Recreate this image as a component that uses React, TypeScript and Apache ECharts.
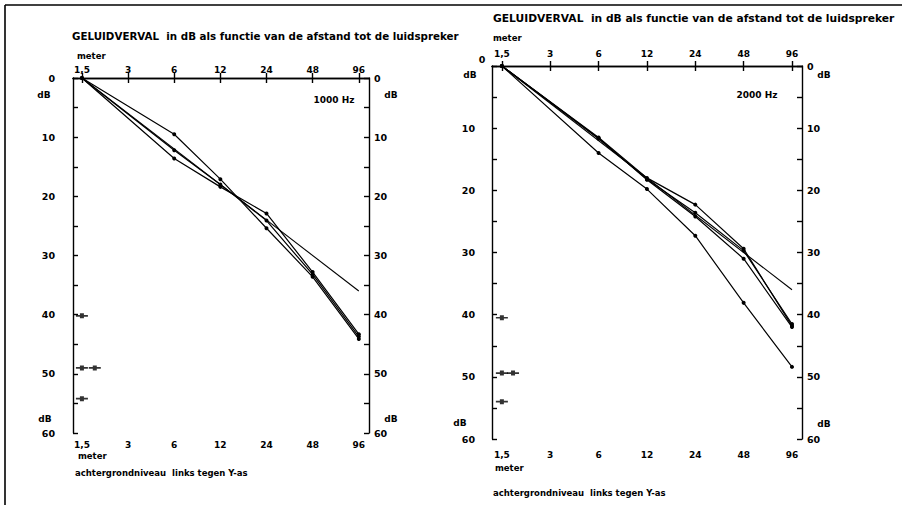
import React, { useEffect, useRef } from "react";
import * as echarts from "echarts";

// axis ticks (meters, doubling steps) and their printed labels
const tickDistances = [1.5, 3, 6, 12, 24, 48, 96];
const tickLabels = ["1,5", "3", "6", "12", "24", "48", "96"];
const dbTicks = [0, 10, 20, 30, 40, 50, 60];

// measured distances
const measuredDist = [1.5, 6, 12, 24, 48, 96];

// 1000 Hz panel (dB drop)
const hz1000SeriesA = [0, 9.5, 17.1, 25.4, 33.6, 44.1];
const hz1000SeriesB = [0, 12.2, 18.0, 24.1, 33.2, 43.7];
const hz1000SeriesC = [0, 13.6, 18.4, 22.9, 32.8, 43.3];

// 2000 Hz panel (dB drop)
const hz2000SeriesA = [0, 11.5, 18.0, 22.3, 29.4, 41.8];
const hz2000SeriesB = [0, 11.7, 18.2, 23.6, 29.7, 41.5];
const hz2000SeriesC = [0, 11.6, 18.3, 24.2, 31.0, 42.0];
const hz2000SeriesD = [0, 14.0, 19.8, 27.3, 38.1, 48.4];

// theoretical 6 dB per doubling line
const refDist = [1.5, 96];
const refDb = [0, 36];

// background level marks ("achtergrondniveau")
const bg1000Dist = [1.5, 1.5, 1.82, 1.5];
const bg1000Db = [40.2, 49, 49, 54.2];
const bg2000Dist = [1.5, 1.5, 1.76, 1.5];
const bg2000Db = [40.5, 49.4, 49.4, 54];

const FONT = "DejaVu Sans";
const zip = (xs: number[], ys: number[]) => xs.map((x, i) => [x, ys[i]]);

const labelFor = (v: number) => {
  const idx = tickDistances.findIndex((d) => Math.abs(d - v) < 0.01 * d);
  return idx >= 0 ? tickLabels[idx] : "";
};

const labelStyle = { color: "#000", fontSize: 9, fontWeight: "bold" as const, fontFamily: FONT };
const lineStyle = { color: "#000", width: 1.4 };

function makeX(gridIndex: number, position: string, min: number, max: number, margin: number) {
  return {
    type: "log",
    logBase: 2,
    gridIndex,
    position,
    min,
    max,
    axisLine: { show: true, lineStyle },
    axisTick: { show: true, inside: true, length: 5, customValues: tickDistances, lineStyle },
    axisLabel: { ...labelStyle, margin, customValues: tickDistances, formatter: (v: number) => labelFor(v) },
    splitLine: { show: false },
    minorTick: { show: false },
    minorSplitLine: { show: false },
  };
}

function makeY(gridIndex: number, position: string, margin: number, skipZero = false) {
  return {
    type: "value",
    gridIndex,
    position,
    inverse: true,
    min: 0,
    max: 60,
    interval: 5,
    axisLine: { show: true, lineStyle },
    axisTick: { show: true, inside: true, length: 5, lineStyle },
    axisLabel: {
      ...labelStyle,
      fontSize: 9.5,
      margin,
      formatter: (v: number) => (dbTicks.includes(v) && !(skipZero && v === 0) ? String(v) : ""),
    },
    splitLine: { show: false },
  };
}

const bgSymbol = "path://M0,1.6H12V3.2H0Z M4,0H8V4.8H4Z";

function lineSeries(xi: number, yi: number, ys: number[]) {
  return {
    type: "line",
    xAxisIndex: xi,
    yAxisIndex: yi,
    data: zip(measuredDist, ys),
    symbol: "circle",
    symbolSize: 4,
    itemStyle: { color: "#000" },
    lineStyle: { color: "#000", width: 1.2 },
    silent: true,
  };
}

function refSeries(xi: number, yi: number) {
  return {
    type: "line",
    xAxisIndex: xi,
    yAxisIndex: yi,
    data: zip(refDist, refDb),
    showSymbol: false,
    symbol: "none",
    lineStyle: { color: "#000", width: 1.1 },
    silent: true,
  };
}

function bgSeries(xi: number, yi: number, xs: number[], ys: number[]) {
  return {
    type: "scatter",
    xAxisIndex: xi,
    yAxisIndex: yi,
    data: zip(xs, ys),
    symbol: bgSymbol,
    symbolSize: [12, 5],
    itemStyle: { color: "#000" },
    silent: true,
  };
}

function txt(text: string, x: number, y: number, size = 9, align = "left", weight = "bold") {
  return {
    type: "text",
    x,
    y,
    silent: true,
    style: {
      text,
      fill: "#000",
      font: `${weight} ${size}px "${FONT}"`,
      textAlign: align,
      textVerticalAlign: "middle",
    },
  };
}

export default function App() {
  const ref = useRef<HTMLDivElement>(null);
  useEffect(() => {
    if (!ref.current) return;
    const chart = echarts.init(ref.current, null, { renderer: "svg" });
    chart.setOption({
      animation: false,
      backgroundColor: "#fff",
      grid: [
        { left: 73, top: 78, width: 296, height: 355 },
        { left: 492, top: 66, width: 310, height: 373 },
      ],
      xAxis: [
        makeX(0, "bottom", 1.312, 111.9, 7),
        makeX(0, "top", 1.312, 111.9, 4),
        makeX(1, "bottom", 1.302, 110.8, 11),
        makeX(1, "top", 1.302, 110.8, 8),
      ],
      yAxis: [
        makeY(0, "left", 18),
        makeY(0, "right", 5),
        makeY(1, "left", 17, true),
        makeY(1, "right", 5),
      ],
      series: [
        refSeries(0, 0),
        lineSeries(0, 0, hz1000SeriesA),
        lineSeries(0, 0, hz1000SeriesB),
        lineSeries(0, 0, hz1000SeriesC),
        bgSeries(0, 0, bg1000Dist, bg1000Db),
        refSeries(2, 2),
        lineSeries(2, 2, hz2000SeriesA),
        lineSeries(2, 2, hz2000SeriesB),
        lineSeries(2, 2, hz2000SeriesC),
        lineSeries(2, 2, hz2000SeriesD),
        bgSeries(2, 2, bg2000Dist, bg2000Db),
      ],
      graphic: [
        { type: "line", silent: true, shape: { x1: 5, y1: 5, x2: 902, y2: 5 }, style: { stroke: "#000", lineWidth: 1.6 } },
        { type: "line", silent: true, shape: { x1: 5, y1: 5, x2: 5, y2: 505 }, style: { stroke: "#000", lineWidth: 1.6 } },
        txt("GELUIDVERVAL  in dB als functie van de afstand tot de luidspreker", 72, 36, 10.3),
        txt("meter", 77, 56, 8.5),
        txt("dB", 44, 95, 9, "center"),
        txt("dB", 391, 95, 9, "center"),
        txt("dB", 45, 419, 9, "center"),
        txt("dB", 391, 419, 9, "center"),
        txt("1000 Hz", 334, 100, 9, "center"),
        txt("meter", 78, 456, 8.5),
        txt("achtergrondniveau  links tegen Y-as", 75, 473, 8.5),
        txt("GELUIDVERVAL  in dB als functie van de afstand tot de luidspreker", 493, 18, 10.7),
        txt("meter", 493, 38, 8.5),
        txt("0", 482, 59, 9.5, "center"),
        txt("dB", 470, 75, 9, "center"),
        txt("dB", 824, 75, 9, "center"),
        txt("dB", 460, 423, 9, "center"),
        txt("dB", 824, 424, 9, "center"),
        txt("2000 Hz", 757, 95, 9, "center"),
        txt("meter", 495, 468, 8.5),
        txt("achtergrondniveau  links tegen Y-as", 493, 493, 8.5),
      ],
    });
    return () => chart.dispose();
  }, []);
  return (
    <div
      ref={ref}
      style={{ position: "fixed", left: 0, top: 0, width: 902, height: 505, background: "#fff" }}
    />
  );
}
